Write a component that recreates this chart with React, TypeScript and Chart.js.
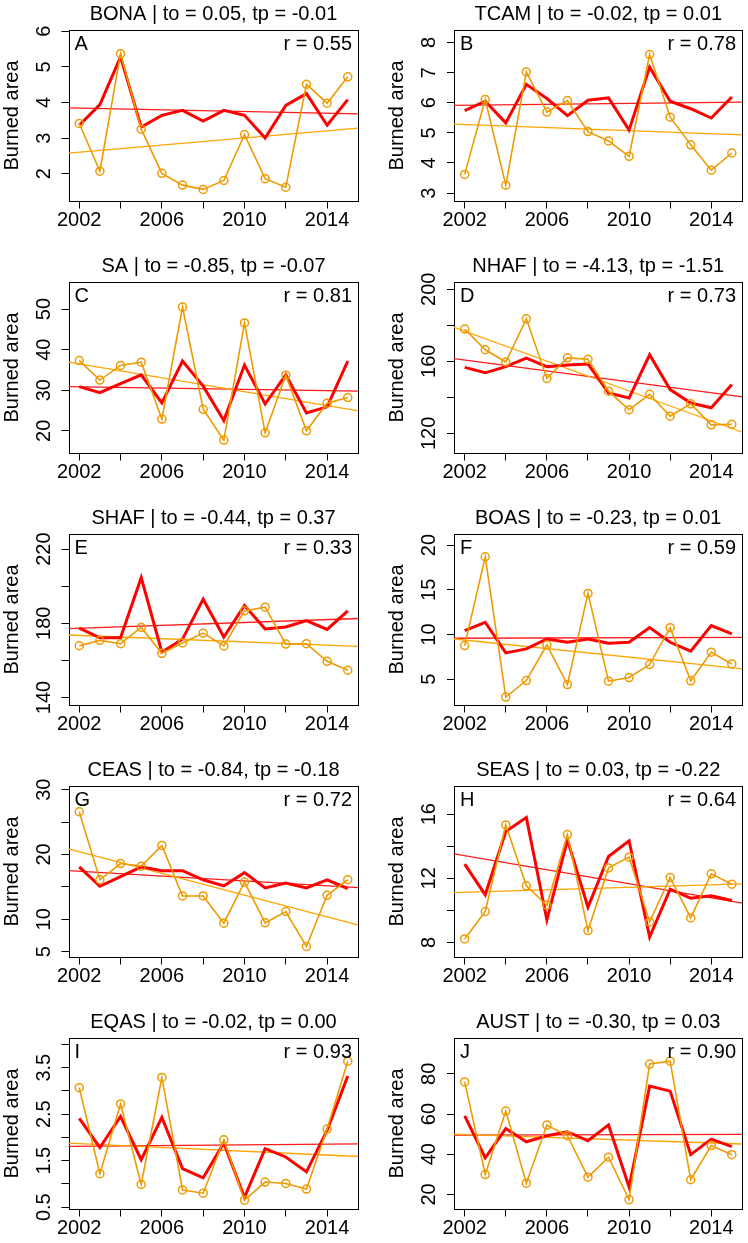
import React, { useEffect, useRef } from 'react';
import { Chart, registerables } from 'chart.js';

Chart.register(...registerables);

// ---------- data ----------
const years = [2002, 2003, 2004, 2005, 2006, 2007, 2008, 2009, 2010, 2011, 2012, 2013, 2014, 2015];
const xTickYears = [2002, 2004, 2006, 2008, 2010, 2012, 2014];
const xLabelYears = [2002, 2006, 2010, 2014];
const xMin = 2001.48;
const xMax = 2015.52;

const regions = ['BONA', 'TCAM', 'SA', 'NHAF', 'SHAF', 'BOAS', 'CEAS', 'SEAS', 'EQAS', 'AUST'];
const panelLetters = ['A', 'B', 'C', 'D', 'E', 'F', 'G', 'H', 'I', 'J'];
const toValues = ['0.05', '-0.02', '-0.85', '-4.13', '-0.44', '-0.23', '-0.84', '0.03', '-0.02', '-0.30'];
const tpValues = ['-0.01', '0.01', '-0.07', '-1.51', '0.37', '0.01', '-0.18', '-0.22', '0.00', '0.03'];
const rValues = ['0.55', '0.78', '0.81', '0.73', '0.33', '0.59', '0.72', '0.64', '0.93', '0.90'];

const bonaObs = [3.41, 2.07, 5.37, 3.25, 2.01, 1.68, 1.56, 1.81, 3.10, 1.86, 1.62, 4.51, 3.98, 4.72];
const bonaPred = [3.36, 3.94, 5.28, 3.31, 3.64, 3.78, 3.48, 3.78, 3.64, 3.00, 3.92, 4.25, 3.36, 4.08];
const bonaObsTrend = [2.58, 3.28];
const bonaPredTrend = [3.85, 3.68];

const tcamObs = [3.62, 6.11, 3.26, 7.02, 5.69, 6.07, 5.04, 4.73, 4.22, 7.60, 5.52, 4.60, 3.76, 4.33];
const tcamPred = [5.74, 6.05, 5.33, 6.61, 6.14, 5.57, 6.08, 6.16, 5.09, 7.18, 6.05, 5.80, 5.49, 6.19];
const tcamObsTrend = [5.29, 4.93];
const tcamPredTrend = [5.91, 6.02];

const saObs = [37.3, 32.5, 36.1, 36.9, 22.9, 50.5, 25.3, 17.7, 46.6, 19.5, 33.7, 20.0, 26.8, 28.2];
const saPred = [30.9, 29.4, 31.6, 33.8, 26.9, 37.2, 31.0, 22.5, 36.2, 26.6, 33.8, 24.4, 25.9, 37.2];
const saObsTrend = [36.9, 24.9];
const saPredTrend = [30.9, 29.8];

const nhafObs = [177.9, 166.4, 159.6, 183.6, 150.5, 161.9, 161.1, 143.4, 133.1, 141.7, 129.5, 136.4, 124.7, 125.0];
const nhafPred = [156.6, 153.6, 157.0, 161.7, 157.0, 157.9, 158.5, 142.4, 139.6, 163.6, 144.3, 136.8, 134.2, 147.1];
const nhafObsTrend = [178.9, 120.6];
const nhafPredTrend = [161.5, 140.2];

const shafObs = [167.9, 170.8, 169.0, 177.8, 163.8, 169.4, 174.7, 167.8, 186.7, 188.7, 168.8, 169.0, 159.5, 154.7];
const shafPred = [177.4, 172.2, 172.2, 204.6, 164.4, 171.5, 193.0, 172.6, 189.6, 176.9, 178.0, 181.5, 176.7, 186.7];
const shafObsTrend = [173.7, 167.6];
const shafPredTrend = [177.1, 182.6];

const boasObs = [8.76, 18.7, 3.0, 4.85, 8.83, 4.4, 14.6, 4.78, 5.19, 6.64, 10.77, 4.82, 8.02, 6.71];
const boasPred = [10.44, 11.37, 7.94, 8.39, 9.50, 9.13, 9.50, 9.02, 9.13, 10.77, 9.13, 8.13, 10.99, 10.06];
const boasObsTrend = [9.50, 6.16];
const boasPredTrend = [9.58, 9.69];

const ceasObs = [26.6, 16.1, 18.6, 18.2, 21.4, 13.6, 13.6, 9.4, 15.75, 9.45, 11.2, 5.8, 13.7, 16.1];
const ceasPred = [18.1, 15.1, 16.6, 18.1, 17.5, 17.5, 16.1, 15.15, 17.2, 14.85, 15.6, 14.85, 16.1, 14.75];
const ceasObsTrend = [20.85, 9.1];
const ceasPredTrend = [17.5, 14.9];

const seasObs = [8.22, 9.93, 15.33, 11.53, 10.32, 14.73, 8.74, 12.65, 13.32, 9.28, 12.05, 9.53, 12.28, 11.63];
const seasPred = [12.88, 10.97, 14.92, 15.79, 9.41, 14.40, 10.20, 13.36, 14.34, 8.33, 11.32, 10.76, 10.91, 10.62];
const seasObsTrend = [11.11, 11.65];
const seasPredTrend = [13.53, 10.45];

const eqasObs = [3.07, 1.22, 2.72, 0.99, 3.29, 0.87, 0.80, 1.95, 0.65, 1.04, 1.01, 0.89, 2.18, 3.64];
const eqasPred = [2.41, 1.78, 2.45, 1.52, 2.43, 1.33, 1.13, 1.88, 0.71, 1.76, 1.58, 1.26, 2.15, 3.32];
const eqasObsTrend = [1.88, 1.59];
const eqasPredTrend = [1.81, 1.86];

const austObs = [76.0, 29.9, 61.5, 25.6, 54.5, 49.2, 28.6, 38.5, 17.4, 84.9, 86.3, 27.3, 44.3, 39.8];
const austPred = [59.1, 38.2, 52.8, 46.2, 49.2, 51.2, 46.7, 54.6, 23.7, 73.9, 71.4, 39.8, 47.5, 43.8];
const austObsTrend = [50.0, 45.1];
const austPredTrend = [49.5, 49.9];

const observed = [bonaObs, tcamObs, saObs, nhafObs, shafObs, boasObs, ceasObs, seasObs, eqasObs, austObs];
const predicted = [bonaPred, tcamPred, saPred, nhafPred, shafPred, boasPred, ceasPred, seasPred, eqasPred, austPred];
const observedTrends = [bonaObsTrend, tcamObsTrend, saObsTrend, nhafObsTrend, shafObsTrend, boasObsTrend, ceasObsTrend, seasObsTrend, eqasObsTrend, austObsTrend];
const predictedTrends = [bonaPredTrend, tcamPredTrend, saPredTrend, nhafPredTrend, shafPredTrend, boasPredTrend, ceasPredTrend, seasPredTrend, eqasPredTrend, austPredTrend];

const yMins = [1.22, 2.72, 14.4, 108.8, 135.7, 2.06, 4.1, 7.06, 0.45, 12.5];
const yMaxs = [6.05, 8.43, 56.8, 204.3, 228.4, 21.3, 30.65, 17.79, 4.15, 98.1];
const yTicks = [
  [2, 3, 4, 5, 6],
  [3, 4, 5, 6, 7, 8],
  [20, 30, 40, 50],
  [120, 140, 160, 180, 200],
  [140, 160, 180, 200, 220],
  [5, 10, 15, 20],
  [5, 10, 15, 20, 25, 30],
  [8, 10, 12, 14, 16],
  [0.5, 1.0, 1.5, 2.0, 2.5, 3.0, 3.5, 4.0],
  [20, 40, 60, 80],
];
const yTickLabels = [
  [2, 3, 4, 5, 6],
  [3, 4, 5, 6, 7, 8],
  [20, 30, 40, 50],
  [120, 160, 200],
  [140, 180, 220],
  [5, 10, 15, 20],
  [5, 10, 20, 30],
  [8, 12, 16],
  [0.5, 1.5, 2.5, 3.5],
  [20, 40, 60, 80],
];
const yAxisTitle = 'Burned area';

// ---------- layout / style ----------
const FONT = '"Liberation Sans", Arial, Helvetica, sans-serif';
const FONT_SIZE = 20;
const PANEL_W = 374;
const ROW_H = 252;
const PAGE_W = 748;
const PAGE_H = 1243;
const BOX_TOP = 29.5;
const BOX_H = 172;
const X_AXIS_H = 40;
const OBS_COLOR = '#EE9A00';
const OBS_TREND_COLOR = '#FFA500';
const PRED_COLOR = '#FF0000';
const PRED_TREND_COLOR = '#FF1A1A';

function Panel({ idx }: { idx: number }) {
  const ref = useRef<HTMLCanvasElement | null>(null);
  const col = idx % 2;
  const row = Math.floor(idx / 2);

  useEffect(() => {
    if (!ref.current) return;
    const yAxisW = col === 0 ? 68.5 : 80;
    const padRight = col === 0 ? 15.5 : 3;

    const decor = {
      id: 'decor' + idx,
      beforeDatasetsDraw(chart: any) {
        const { ctx, chartArea: ca } = chart;
        ctx.save();
        ctx.strokeStyle = '#000';
        ctx.lineWidth = 1;
        const l = Math.round(ca.left) + 0.5;
        const t = Math.round(ca.top) + 0.5;
        const r = Math.round(ca.right) - 0.5;
        const b = Math.round(ca.bottom) - 0.5;
        ctx.strokeRect(l, t, r - l, b - t);
        ctx.restore();
      },
      afterDraw(chart: any) {
        const { ctx, chartArea: ca, scales } = chart;
        ctx.save();
        ctx.fillStyle = '#000';
        ctx.font = `${FONT_SIZE}px ${FONT}`;
        // title
        ctx.textAlign = 'center';
        ctx.textBaseline = 'alphabetic';
        ctx.fillText(`${regions[idx]} | to = ${toValues[idx]}, tp = ${tpValues[idx]}`, (ca.left + ca.right) / 2, ca.top - 10);
        // panel letter and r
        ctx.textAlign = 'left';
        ctx.fillText(panelLetters[idx], ca.left + 6, ca.top + 20);
        ctx.textAlign = 'right';
        ctx.fillText(`r = ${rValues[idx]}`, ca.right - 6.5, ca.top + 20);
        // y tick labels (rotated like R's las = 0)
        ctx.textAlign = 'center';
        ctx.textBaseline = 'middle';
        for (const v of yTickLabels[idx]) {
          const py = scales.y.getPixelForValue(v);
          ctx.save();
          ctx.translate(ca.left - 24.5, py);
          ctx.rotate(-Math.PI / 2);
          ctx.fillText(String(v), 0, 0);
          ctx.restore();
        }
        // y axis title
        ctx.save();
        ctx.translate(ca.left - 56.5, (ca.top + ca.bottom) / 2);
        ctx.rotate(-Math.PI / 2);
        ctx.fillText(yAxisTitle, 0, 0);
        ctx.restore();
        ctx.restore();
      },
    };

    const gridOpts = {
      display: true,
      drawOnChartArea: false,
      drawTicks: true,
      tickLength: 7,
      tickColor: '#000',
      tickWidth: 1,
    };

    const chart = new Chart(ref.current, {
      type: 'line',
      data: {
        datasets: [
          {
            label: 'Observed',
            data: years.map((x, i) => ({ x, y: observed[idx][i] })),
            borderColor: OBS_COLOR,
            borderWidth: 1.6,
            pointRadius: 4,
            pointBorderWidth: 1.5,
            pointBorderColor: OBS_COLOR,
            pointBackgroundColor: 'rgba(0,0,0,0)',
            tension: 0,
            order: 1,
          },
          {
            label: 'Predicted',
            data: years.map((x, i) => ({ x, y: predicted[idx][i] })),
            borderColor: PRED_COLOR,
            borderWidth: 3,
            pointRadius: 0,
            tension: 0,
            order: 2,
          },
          {
            label: 'Observed trend',
            data: [
              { x: xMin, y: observedTrends[idx][0] },
              { x: xMax, y: observedTrends[idx][1] },
            ],
            borderColor: OBS_TREND_COLOR,
            borderWidth: 1.3,
            pointRadius: 0,
            order: 3,
          },
          {
            label: 'Predicted trend',
            data: [
              { x: xMin, y: predictedTrends[idx][0] },
              { x: xMax, y: predictedTrends[idx][1] },
            ],
            borderColor: PRED_TREND_COLOR,
            borderWidth: 1.3,
            pointRadius: 0,
            order: 4,
          },
        ],
      },
      options: {
        responsive: false,
        animation: false,
        events: [],
        layout: {
          padding: {
            left: 0,
            right: padRight,
            top: BOX_TOP,
            bottom: ROW_H - BOX_TOP - BOX_H - X_AXIS_H,
          },
        },
        plugins: {
          legend: { display: false },
          tooltip: { enabled: false },
          title: { display: false },
        },
        scales: {
          x: {
            type: 'linear',
            min: xMin,
            max: xMax,
            afterBuildTicks: (s: any) => {
              s.ticks = xTickYears.map((v) => ({ value: v }));
            },
            afterFit: (s: any) => {
              s.height = X_AXIS_H;
            },
            grid: gridOpts,
            border: { display: false },
            ticks: {
              autoSkip: false,
              maxRotation: 0,
              minRotation: 0,
              padding: 0,
              color: '#000',
              font: { family: FONT, size: FONT_SIZE },
              callback: (v: any) => (xLabelYears.includes(Number(v)) ? String(v) : ''),
            },
          },
          y: {
            type: 'linear',
            min: yMins[idx],
            max: yMaxs[idx],
            afterBuildTicks: (s: any) => {
              s.ticks = yTicks[idx].map((v) => ({ value: v }));
            },
            afterFit: (s: any) => {
              s.width = yAxisW;
            },
            grid: gridOpts,
            border: { display: false },
            ticks: { display: false },
          },
        },
      } as any,
      plugins: [decor],
    });
    return () => chart.destroy();
  }, [idx, col]);

  return (
    <canvas
      ref={ref}
      width={PANEL_W}
      height={ROW_H}
      style={{ position: 'absolute', left: col * PANEL_W, top: row * ROW_H, width: PANEL_W, height: ROW_H }}
    />
  );
}

export default function App() {
  return (
    <div
      style={{
        position: 'absolute',
        left: 0,
        top: 0,
        width: PAGE_W,
        height: PAGE_H,
        overflow: 'hidden',
        background: '#fff',
      }}
    >
      {regions.map((_, i) => (
        <Panel key={i} idx={i} />
      ))}
    </div>
  );
}
